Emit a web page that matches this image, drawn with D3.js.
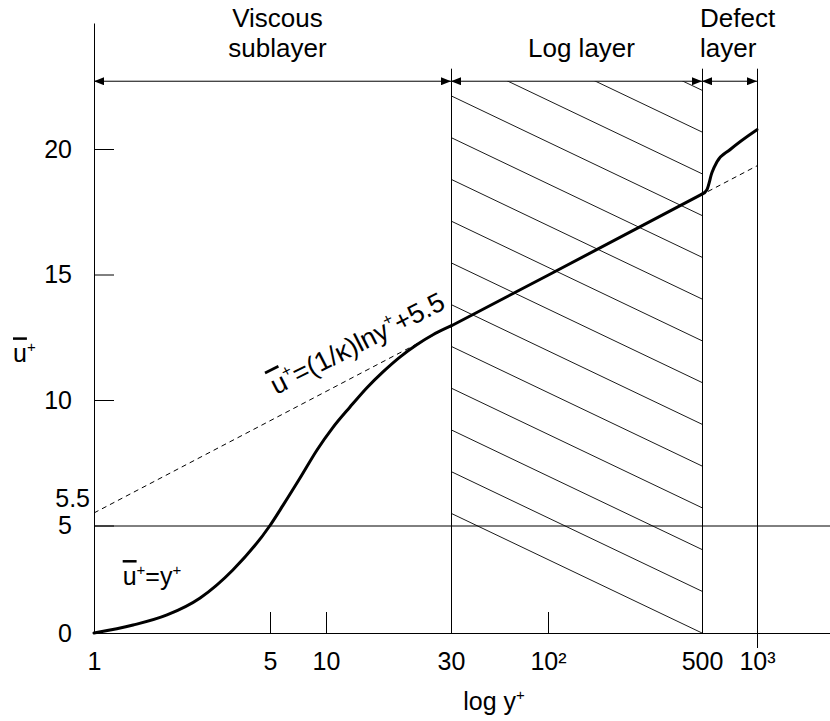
<!DOCTYPE html>
<html>
<head>
<meta charset="utf-8">
<script src="https://cdn.jsdelivr.net/npm/d3@7"></script>
<style>
    body { margin: 0; background: #fff; }
    text { font-family: "Liberation Sans", Arial, Helvetica, sans-serif; fill: #000; }
</style>
</head>
<body>
<svg id="chart" width="830" height="721"></svg>
<script>
// mean velocity profile (y+ vs u+)
var yPlus = [1, 1.43, 1.95, 2.64, 3.56, 5, 5.87, 7.25, 8.95, 10.6, 12.35, 14.3, 16.5, 19.2, 22.2, 25.6, 30,
             100, 500, 532, 567, 604, 711, 1000]
var uPlus = [0, 0.37, 0.84, 1.63, 2.93, 5, 5.80, 6.89, 8.01, 8.89, 9.72, 10.48, 11.12, 11.72, 12.20, 12.60, 12.95,
             14.97, 18.2, 18.38, 19.06, 19.49, 19.97, 20.77]

// log law, dashed reference line
var lawY = [1, 1000]
var lawU = [5.5, 19.33]

// axes
var xTicks = [1, 5, 10, 30, 100, 500, 1000]
var xTickLabels = ["1", "5", "10", "30", "10²", "500", "10³"]
var yTicks = [0, 5, 10, 15, 20]

// layers
var regionEdges = [1, 30, 500, 1000]
var regionNames = [["Viscous", "sublayer"], ["Log layer"], ["Defect", "layer"]]

var width = 830, height = 721

// the figure is a sketch, so the log axis is not evenly spaced:
// piecewise log scale through the labelled values
var x = d3.scaleLog()
    .domain(xTicks)
    .range([94, 270, 326, 451, 548, 702, 757])

// y axis is squeezed below 5
var y = d3.scaleLinear()
    .domain([0, 5, 20])
    .range([633, 525.5, 149])

var svg = d3.select("#chart")
svg.append("rect").attr("width", width).attr("height", height).attr("fill", "#fff")

var uTop = 25,      // top of the y axis
    uArrow = 22.7,  // level of the layer arrows
    uEdgeTop = 23.2 // top of the layer boundaries

// helper: text with overlines and small raised "+"
function richText(sel, parts, size) {
    var shift = 0
    parts.forEach(function(p) {
        var t = sel.append("tspan").text(p.t)
        var want = p.sup ? -size * 0.42 : 0
        t.attr("dy", want - shift)
        shift = want
        if (p.sup) t.style("font-size", (size * 0.6) + "px")
        if (p.over) t.style("text-decoration", "overline")
    })
}

var uBar = [{ t: "u", over: true }, { t: "+", sup: true }]

// hatching of the log layer
var hatchTop = y(uArrow), hatchBot = y(0),
    hx0 = x(30), hx1 = x(500),
    slope = 0.477, step = 41.75

svg.append("clipPath").attr("id", "hatchClip")
    .append("rect")
    .attr("x", hx0).attr("y", hatchTop)
    .attr("width", hx1 - hx0).attr("height", hatchBot - hatchTop)

svg.append("g")
    .attr("clip-path", "url(#hatchClip)")
    .selectAll("line")
    .data(d3.range(0, 20))
    .join("line")
    .attr("x1", hx0)
    .attr("x2", hx1)
    .attr("y1", function(k) { return hatchBot - k * step - slope * (hx1 - hx0) })
    .attr("y2", function(k) { return hatchBot - k * step })
    .attr("stroke", "#000")
    .attr("stroke-width", 0.9)

// x axis (ticks inward)
var xAxis = svg.append("g")
    .attr("transform", "translate(0," + y(0) + ")")
    .call(d3.axisBottom(x)
        .tickValues(xTicks)
        .tickFormat(function(d, i) { return xTickLabels[i] })
        .tickSize(-21)
        .tickPadding(19))
xAxis.select(".domain").remove()
xAxis.selectAll("text").style("font-size", "25px")
xAxis.attr("font-family", null)

svg.append("line")
    .attr("x1", x(1)).attr("x2", width)
    .attr("y1", y(0) + 0.5).attr("y2", y(0) + 0.5)
    .attr("stroke", "#000")

// y axis (ticks inward)
var yAxis = svg.append("g")
    .attr("transform", "translate(" + x(1) + ",0)")
    .call(d3.axisLeft(y)
        .tickValues(yTicks)
        .tickSize(-20)
        .tickPadding(22))
yAxis.select(".domain").remove()
yAxis.selectAll("text").style("font-size", "25px")
yAxis.attr("font-family", null)

svg.append("line")
    .attr("x1", x(1) + 0.5).attr("x2", x(1) + 0.5)
    .attr("y1", y(uTop)).attr("y2", y(0))
    .attr("stroke", "#000")

// 5.5 intercept label
svg.append("text")
    .attr("x", x(1) - 4)
    .attr("y", y(5.5) - 14)
    .attr("dy", "0.32em")
    .attr("text-anchor", "end")
    .style("font-size", "25px")
    .text("5.5")

// u+ = 5 line
svg.append("line")
    .attr("x1", x(1)).attr("x2", width)
    .attr("y1", y(5) + 0.5).attr("y2", y(5) + 0.5)
    .attr("stroke", "#000")

// layer boundaries
svg.selectAll(".edge")
    .data(regionEdges.slice(1))
    .join("line")
    .attr("class", "edge")
    .attr("x1", function(d) { return x(d) + 0.5 })
    .attr("x2", function(d) { return x(d) + 0.5 })
    .attr("y1", y(uEdgeTop))
    .attr("y2", function(d) { return d == 1000 ? y(0) + 15 : y(0) })
    .attr("stroke", "#000")

// arrows
var defs = svg.append("defs")
defs.append("marker")
    .attr("id", "head")
    .attr("viewBox", "0 0 10 8")
    .attr("refX", 10).attr("refY", 4)
    .attr("markerUnits", "userSpaceOnUse")
    .attr("markerWidth", 10).attr("markerHeight", 8)
    .attr("orient", "auto-start-reverse")
    .append("path")
    .attr("d", "M0,0L10,4L0,8Z")
    .attr("fill", "#000")

var regions = regionNames.map(function(n, i) {
    return { name: n, from: regionEdges[i], to: regionEdges[i + 1] }
})

svg.selectAll(".arrow")
    .data(regions)
    .join("line")
    .attr("class", "arrow")
    .attr("x1", function(d) { return x(d.from) })
    .attr("x2", function(d) { return x(d.to) })
    .attr("y1", y(uArrow))
    .attr("y2", y(uArrow))
    .attr("stroke", "#000")
    .attr("marker-start", "url(#head)")
    .attr("marker-end", "url(#head)")

// layer names
regions.forEach(function(r, i) {
    var last = i == regions.length - 1
    var cx = last ? x(r.from) - 2 : (x(r.from) + x(r.to)) / 2 + 5
    var lines = r.name
    lines.forEach(function(s, j) {
        svg.append("text")
            .attr("x", cx)
            .attr("y", 57 - (lines.length - 1 - j) * 30)
            .attr("text-anchor", last ? "start" : "middle")
            .style("font-size", "26px")
            .text(s)
    })
})

// dashed log law
var line = d3.line()
    .x(function(d) { return x(d[0]) })
    .y(function(d) { return y(d[1]) })

svg.append("path")
    .datum(d3.zip(lawY, lawU))
    .attr("d", line)
    .attr("fill", "none")
    .attr("stroke", "#000")
    .attr("stroke-width", 1)
    .attr("stroke-dasharray", "5,4")

// velocity profile, one piece per layer (smooth, straight, smooth)
var profile = d3.zip(yPlus, uPlus)
var pieces = regions.map(function(r, i) {
    return {
        pts: profile.filter(function(p) { return p[0] >= r.from && p[0] <= r.to }),
        curve: i == 1 ? d3.curveLinear : d3.curveMonotoneX
    }
})

svg.selectAll(".profile")
    .data(pieces)
    .join("path")
    .attr("class", "profile")
    .attr("d", function(d) { return line.curve(d.curve)(d.pts) })
    .attr("fill", "none")
    .attr("stroke", "#000")
    .attr("stroke-width", 3)
    .attr("stroke-linejoin", "round")
    .attr("stroke-linecap", "round")

// annotations
var eq = svg.append("text")
    .attr("transform", "translate(" + x(5.4) + "," + y(10.2) + ") rotate(-27)")
    .style("font-size", "27px")
richText(eq, uBar.concat([{ t: "=(1/κ)lny" }, { t: "+", sup: true }, { t: "+5.5" }]), 27)

var lin = svg.append("text")
    .attr("x", x(1.3))
    .attr("y", y(2.23))
    .style("font-size", "25px")
richText(lin, uBar.concat([{ t: "=y" }, { t: "+", sup: true }]), 25)

// axis titles
var yl = svg.append("text")
    .attr("x", 13)
    .attr("y", y(11.5))
    .style("font-size", "25px")
richText(yl, uBar, 25)

var xl = svg.append("text")
    .attr("x", 494)
    .attr("y", 710)
    .attr("text-anchor", "middle")
    .style("font-size", "25px")
richText(xl, [{ t: "log y" }, { t: "+", sup: true }], 25)
</script>
</body>
</html>
